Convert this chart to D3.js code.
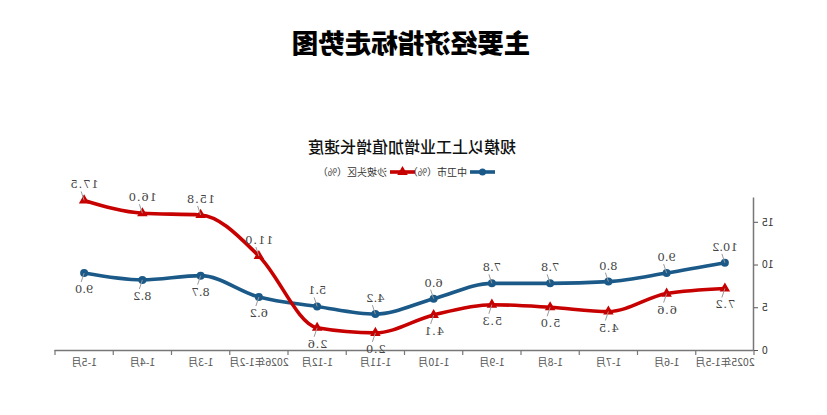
<!DOCTYPE html>
<html><head><meta charset="utf-8">
<script src="https://cdn.jsdelivr.net/npm/d3@7"></script>
<style>body{margin:0;background:#fff}svg{display:block}</style>
</head><body>
<svg id="c" width="827" height="415"></svg>
<script>
const categories = ["2025年1-5月","1-6月","1-7月","1-8月","1-9月","1-10月","1-11月","1-12月","2026年1-2月","1-3月","1-4月","1-5月"];
const zhongwei = [10.2, 9.0, 8.0, 7.8, 7.8, 6.0, 4.2, 5.1, 6.2, 8.7, 8.2, 9.0];
const shapotou = [7.2, 6.6, 4.5, 5.0, 5.3, 4.1, 2.0, 2.6, 11.0, 15.8, 16.0, 17.5];
const yTicks = [0, 5, 10, 15];
const seriesNames = ["中卫市（%）", "沙坡头区（%）"];

const W = 827, H = 415;
const svg = d3.select("#c");
// whole picture is mirrored horizontally in the reference
const g = svg.append("g").attr("transform", `translate(${W},0) scale(-1,1)`);

const x = d3.scaleBand().domain(categories).range([73, 772]);
const y = d3.scaleLinear().domain([0, 17.9]).range([350, 197]);

const font = "'Noto Sans CJK SC', 'Noto Sans', sans-serif";

// titles
g.append("text").attr("x", 416).attr("y", 53).attr("text-anchor", "middle")
  .attr("font-family", font).attr("font-weight", 900).attr("font-size", 26.5)
  .attr("fill", "#000").text("主要经济指标走势图");
g.append("text").attr("x", 415).attr("y", 153).attr("text-anchor", "middle")
  .attr("font-family", font).attr("font-weight", 500).attr("font-size", 16)
  .attr("fill", "#111").text("规模以上工业增加值增长速度");

// axes
const axisColor = "#777";
const xAxis = g.append("g").attr("transform", "translate(0,350)")
  .call(d3.axisBottom(x).tickSize(0).tickPadding(9));
xAxis.select(".domain").attr("stroke", axisColor).attr("stroke-width", 1.3);
xAxis.selectAll("text").attr("font-family", font).attr("font-size", 10.5).attr("fill", "#555");
const bounds = categories.map(c => x(c)).concat([x.range()[1]]);
g.append("g").selectAll("line").data(bounds).join("line")
  .attr("x1", d => d).attr("x2", d => d).attr("y1", 350).attr("y2", 355)
  .attr("stroke", axisColor).attr("stroke-width", 1.2);

const yAxis = g.append("g").attr("transform", "translate(73,0)")
  .call(d3.axisLeft(y).tickValues(yTicks).tickSize(4).tickPadding(4).tickSizeOuter(0));
yAxis.select(".domain").attr("stroke", axisColor).attr("stroke-width", 1.5);
yAxis.selectAll(".tick line").attr("stroke", "#555");
yAxis.selectAll("text").attr("font-family", font).attr("font-size", 10.5).attr("fill", "#333");

const cx = c => x(c) + x.bandwidth() / 2;
const blue = "#1b5a88", red = "#c70000";
const line = d3.line().x((d, i) => cx(categories[i])).y(d => y(d)).curve(d3.curveMonotoneX);

g.append("path").attr("d", line(zhongwei)).attr("fill", "none").attr("stroke", blue).attr("stroke-width", 3.6);
g.append("path").attr("d", line(shapotou)).attr("fill", "none").attr("stroke", red).attr("stroke-width", 3.6);

const tri = d3.symbol().type(d3.symbolTriangle).size(48);
g.append("g").selectAll("circle").data(zhongwei).join("circle")
  .attr("cx", (d, i) => cx(categories[i])).attr("cy", d => y(d)).attr("r", 4).attr("fill", blue);
g.append("g").selectAll("path").data(shapotou).join("path")
  .attr("d", tri).attr("transform", (d, i) => `translate(${cx(categories[i])},${y(d)})`).attr("fill", red);

// data labels with leader lines
function labels(vals, other, spacing) {
  const lg = g.append("g");
  vals.forEach((v, i) => {
    const above = v > other[i];
    const px = cx(categories[i]), py = y(v);
    const ly = above ? py - 12 : py + 20;
    lg.append("line").attr("x1", px).attr("y1", py)
      .attr("x2", px + 3).attr("y2", above ? py - 9 : py + 9)
      .attr("stroke", "#999").attr("stroke-width", 1);
    lg.append("text").attr("x", px).attr("y", ly).attr("text-anchor", "middle")
      .attr("font-family", "'DejaVu Serif', serif").attr("font-size", 11.5)
      .attr("letter-spacing", spacing).attr("fill", "#444").text(v.toFixed(1));
  });
}
labels(zhongwei, shapotou, 0);
labels(shapotou, zhongwei, 0.8);

// legend
const lgd = g.append("g").attr("transform", "translate(0,172)");
[[blue, "circle"], [red, "tri"]].forEach((s, k) => {
  const x0 = k === 0 ? 332 : 412;
  lgd.append("line").attr("x1", x0).attr("x2", x0 + 25).attr("y1", 0).attr("y2", 0)
    .attr("stroke", s[0]).attr("stroke-width", 3.6);
  if (s[1] === "circle") lgd.append("circle").attr("cx", x0 + 12.5).attr("r", 3.5).attr("fill", s[0]);
  else lgd.append("path").attr("d", tri).attr("transform", `translate(${x0 + 12.5},0)`).attr("fill", s[0]);
  lgd.append("text").attr("x", x0 + 28).attr("y", 3.5).attr("font-family", font)
    .attr("font-size", 10).attr("fill", "#333").text(seriesNames[k]);
});
</script>
</body></html>
